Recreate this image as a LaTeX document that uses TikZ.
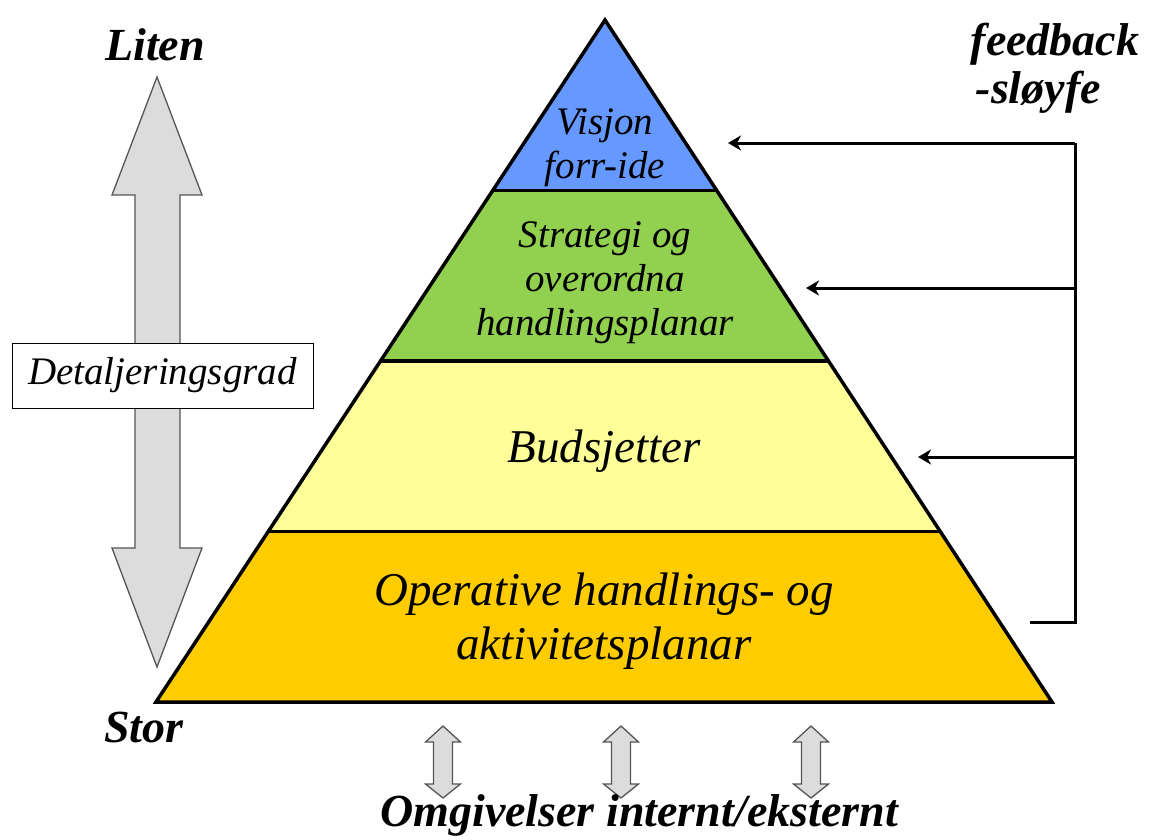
\documentclass[tikz,border=0pt]{standalone}
\usepackage{fontspec}
\setmainfont{Liberation Serif}
\usetikzlibrary{calc,arrows.meta}
\definecolor{cBlue}{HTML}{6699FF}
\definecolor{cGreen}{HTML}{92D050}
\definecolor{cYellow}{HTML}{FFFF99}
\definecolor{cOrange}{HTML}{FFCC00}
\definecolor{cGrayFill}{HTML}{DCDCDC}
\definecolor{cGrayLine}{HTML}{555555}
\begin{document}
\begin{tikzpicture}[x=1pt,y=-1pt,
  layer/.style={draw=black, line width=3.5pt, line join=miter},
  ptext/.style={font=\itshape\fontsize{39}{44}\selectfont, align=center, inner sep=0pt},
  btext/.style={font=\itshape\fontsize{47}{54}\selectfont, align=center, inner sep=0pt},
  bold/.style={font=\bfseries\itshape\fontsize{46}{48}\selectfont, inner sep=0pt},
  grayarrow/.style={fill=cGrayFill, draw=cGrayLine, line width=1.3pt, line join=miter},
  fb/.style={draw=black, line width=3pt},
  fbarrow/.style={fb, -{Stealth[length=13pt,width=15pt,inset=4pt]}},
  pics/dblarrow/.style={code={
    \draw[grayarrow] (0,-36) -- (17.5,-20) -- (9.5,-20) -- (9.5,22) -- (17.5,22)
      -- (0,36) -- (-17.5,22) -- (-9.5,22) -- (-9.5,-20) -- (-17.5,-20) -- cycle;
  }}]
\useasboundingbox (0,0) rectangle (1157,839);

% pyramid corners
\coordinate (apex) at (605,20);
\coordinate (bl) at (156,702);
\coordinate (br) at (1052,702);
\coordinate (l1) at ($(apex)!0.25!(bl)$);
\coordinate (r1) at ($(apex)!0.25!(br)$);
\coordinate (l2) at ($(apex)!0.5!(bl)$);
\coordinate (r2) at ($(apex)!0.5!(br)$);
\coordinate (l3) at ($(apex)!0.75!(bl)$);
\coordinate (r3) at ($(apex)!0.75!(br)$);

\fill[cBlue] (apex) -- (r1) -- (l1) -- cycle;
\fill[cGreen] (l1) -- (r1) -- (r2) -- (l2) -- cycle;
\fill[cYellow] (l2) -- (r2) -- (r3) -- (l3) -- cycle;
\fill[cOrange] (l3) -- (r3) -- (br) -- (bl) -- cycle;
\draw[layer] (l1) -- (r1) (l2) -- (r2) (l3) -- (r3);
\draw[layer] (apex) -- (br) -- (bl) -- cycle;

% pyramid texts
\node[ptext] (visjon) at (605,148) {Visjon\\forr-ide};
\node[ptext] (strategi) at (605,283) {Strategi og\\overordna\\handlingsplanar};
\node[btext, anchor=base] (budsjett) at (604,462) {Budsjetter};
\node[btext] (operativ) at (604,621) {Operative handlings- og\\aktivitetsplanar};

% left big arrow
\draw[grayarrow] (157,77) -- (202,195) -- (180,195) -- (180,548) -- (202,548)
  -- (157,667) -- (112,548) -- (135,548) -- (135,195) -- (112,195) -- cycle;
\node[draw=black, fill=white, line width=1pt, minimum width=301pt, minimum height=65pt,
  inner sep=0pt, font=\itshape\fontsize{39}{44}\selectfont] (detalj) at (162.5,375.5) {Detaljeringsgrad};

\node[bold, anchor=base] (liten) at (155,60) {Liten};
\node[bold, anchor=base] (stor) at (144,742) {Stor};

% bottom
\pic (da1) at (443,762) {dblarrow};
\pic (da2) at (621,762) {dblarrow};
\pic (da3) at (811,762) {dblarrow};
\node[bold, anchor=base] (omgiv) at (639,826) {Omgivelser internt/eksternt};

% feedback
\node[bold, align=left] (feedback) at (1055,68) {feedback\\\hspace*{5pt}-sløyfe};
\coordinate (fbStub) at (1030,622);
\coordinate (fbCorner) at (1075,622);
\coordinate (fbTop) at (1075,143);
\coordinate (fbMid) at (1075,288);
\coordinate (fbLow) at (1075,457);
\coordinate (tip1) at (728,143);
\coordinate (tip2) at (806,288);
\coordinate (tip3) at (918,457);
\draw[fb, line join=miter] (fbStub) -- (fbCorner) -- (fbTop);
\draw[fbarrow] (fbTop) -- (tip1);
\draw[fbarrow] (fbMid) -- (tip2);
\draw[fbarrow] (fbLow) -- (tip3);
\end{tikzpicture}
\end{document}
